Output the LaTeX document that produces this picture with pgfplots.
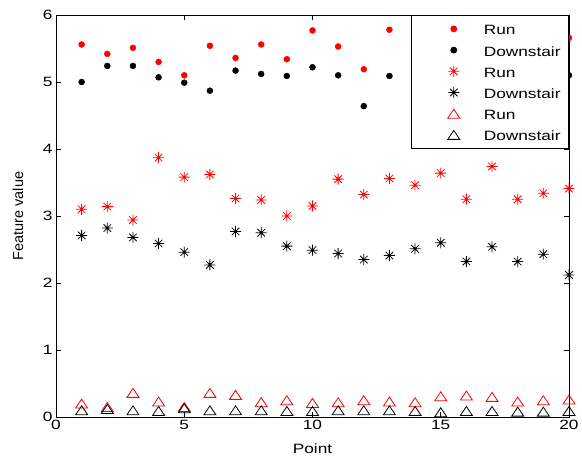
\documentclass[border=0pt]{standalone}
\usepackage{fontspec}
\setmainfont{Liberation Sans}[FakeStretch=1.28]
\newfontfamily\ylfont{Liberation Sans}
\usepackage{pgfplots}
\pgfplotsset{compat=1.18}

\pgfdeclareplotmark{mstar}{%
  \pgfpathmoveto{\pgfqpoint{-\pgfplotmarksize}{0pt}}\pgfpathlineto{\pgfqpoint{\pgfplotmarksize}{0pt}}%
  \pgfpathmoveto{\pgfqpoint{0pt}{-\pgfplotmarksize}}\pgfpathlineto{\pgfqpoint{0pt}{\pgfplotmarksize}}%
  \pgfpathmoveto{\pgfqpoint{-0.68\pgfplotmarksize}{-0.68\pgfplotmarksize}}\pgfpathlineto{\pgfqpoint{0.68\pgfplotmarksize}{0.68\pgfplotmarksize}}%
  \pgfpathmoveto{\pgfqpoint{-0.68\pgfplotmarksize}{0.68\pgfplotmarksize}}\pgfpathlineto{\pgfqpoint{0.68\pgfplotmarksize}{-0.68\pgfplotmarksize}}%
  \pgfusepathqstroke}
\pgfdeclareplotmark{mtri}{%
  \pgfpathmoveto{\pgfqpoint{0pt}{0.75\pgfplotmarksize}}%
  \pgfpathlineto{\pgfqpoint{-\pgfplotmarksize}{-0.75\pgfplotmarksize}}%
  \pgfpathlineto{\pgfqpoint{\pgfplotmarksize}{-0.75\pgfplotmarksize}}%
  \pgfpathclose\pgfusepathqstroke}

\begin{document}
\begin{tikzpicture}
\begin{axis}[
  at={(0,0)}, anchor=south west,
  scale only axis, width=513pt, height=402pt,
  xmin=0, xmax=20, ymin=0, ymax=6,
  xtick={0,5,10,15,20}, ytick={0,1,2,3,4,5,6},
  tick align=inside, tick pos=both,
  major tick length=5pt,
  axis line style={line width=0.8pt},
  every tick/.style={black, line width=0.6pt},
  tick label style={font=\fontsize{13.5}{16}\selectfont},
  /pgf/number format/assume math mode=true,
  xlabel={Point}, ylabel={\ylfont Feature value},
  xlabel style={font=\fontsize{13.5}{16}\selectfont, at={(axis description cs:0.5,-0.092)}, anchor=base},
  ylabel style={font=\fontsize{14.5}{16}\selectfont, at={(axis description cs:-0.074,0.5)}, anchor=center, rotate=0},
  legend style={at={(1,1)}, anchor=north east, draw=black, line width=0.8pt, fill=white,
    inner sep=5pt, row sep=4.2pt,
    nodes={font=\fontsize{13.5}{16}\selectfont, text height=12.5pt, text depth=0.5pt, inner ysep=2pt, inner xsep=3pt}},
  legend cell align=left,
  legend image code/.code={\path[draw=none] (-3pt,0pt) (61pt,0pt); \path[#1, draw=none] plot[only marks] coordinates {(34pt,0pt)};},
]
\addplot[only marks, mark=*, mark size=3pt, color=red] coordinates {
(1,5.56) (2,5.42) (3,5.51) (4,5.30) (5,5.10) (6,5.54) (7,5.36) (8,5.56) (9,5.34) (10,5.77)
(11,5.53) (12,5.19) (13,5.78) (14,5.45) (15,5.50) (16,5.40) (17,5.60) (18,5.35) (19,5.50) (20,5.66)};
\addlegendentry{Run}
\addplot[only marks, mark=*, mark size=3pt, color=black] coordinates {
(1,5.00) (2,5.24) (3,5.24) (4,5.07) (5,4.99) (6,4.87) (7,5.17) (8,5.12) (9,5.09) (10,5.22)
(11,5.10) (12,4.64) (13,5.09) (14,5.05) (15,5.10) (16,5.00) (17,5.15) (18,5.05) (19,5.10) (20,5.10)};
\addlegendentry{Downstair}
\addplot[only marks, mark=mstar, mark size=5.5pt, color=red, mark options={line width=0.8pt}] coordinates {
(1,3.10) (2,3.14) (3,2.94) (4,3.87) (5,3.58) (6,3.62) (7,3.26) (8,3.24) (9,3.00) (10,3.15)
(11,3.55) (12,3.32) (13,3.56) (14,3.46) (15,3.64) (16,3.25) (17,3.74) (18,3.25) (19,3.34) (20,3.41)};
\addlegendentry{Run}
\addplot[only marks, mark=mstar, mark size=5.5pt, color=black, mark options={line width=0.8pt}] coordinates {
(1,2.71) (2,2.82) (3,2.68) (4,2.59) (5,2.46) (6,2.27) (7,2.77) (8,2.75) (9,2.55) (10,2.49)
(11,2.44) (12,2.35) (13,2.41) (14,2.51) (15,2.60) (16,2.32) (17,2.54) (18,2.32) (19,2.43) (20,2.12)};
\addlegendentry{Downstair}
\addplot[only marks, mark=mtri, mark size=6pt, color=red, mark options={line width=0.8pt}] coordinates {
(1,0.20) (2,0.15) (3,0.36) (4,0.23) (5,0.15) (6,0.36) (7,0.33) (8,0.22) (9,0.25) (10,0.21)
(11,0.22) (12,0.25) (13,0.23) (14,0.22) (15,0.31) (16,0.32) (17,0.30) (18,0.23) (19,0.25) (20,0.26)};
\addlegendentry{Run}
\addplot[only marks, mark=mtri, mark size=6pt, color=black, mark options={line width=0.8pt}] coordinates {
(1,0.10) (2,0.12) (3,0.10) (4,0.09) (5,0.13) (6,0.10) (7,0.10) (8,0.10) (9,0.09) (10,0.09)
(11,0.10) (12,0.10) (13,0.10) (14,0.09) (15,0.07) (16,0.09) (17,0.09) (18,0.08) (19,0.08) (20,0.09)};
\addlegendentry{Downstair}
\end{axis}
\path[use as bounding box] (-56pt,-39pt) rectangle (526pt,417pt);
\end{tikzpicture}
\end{document}
